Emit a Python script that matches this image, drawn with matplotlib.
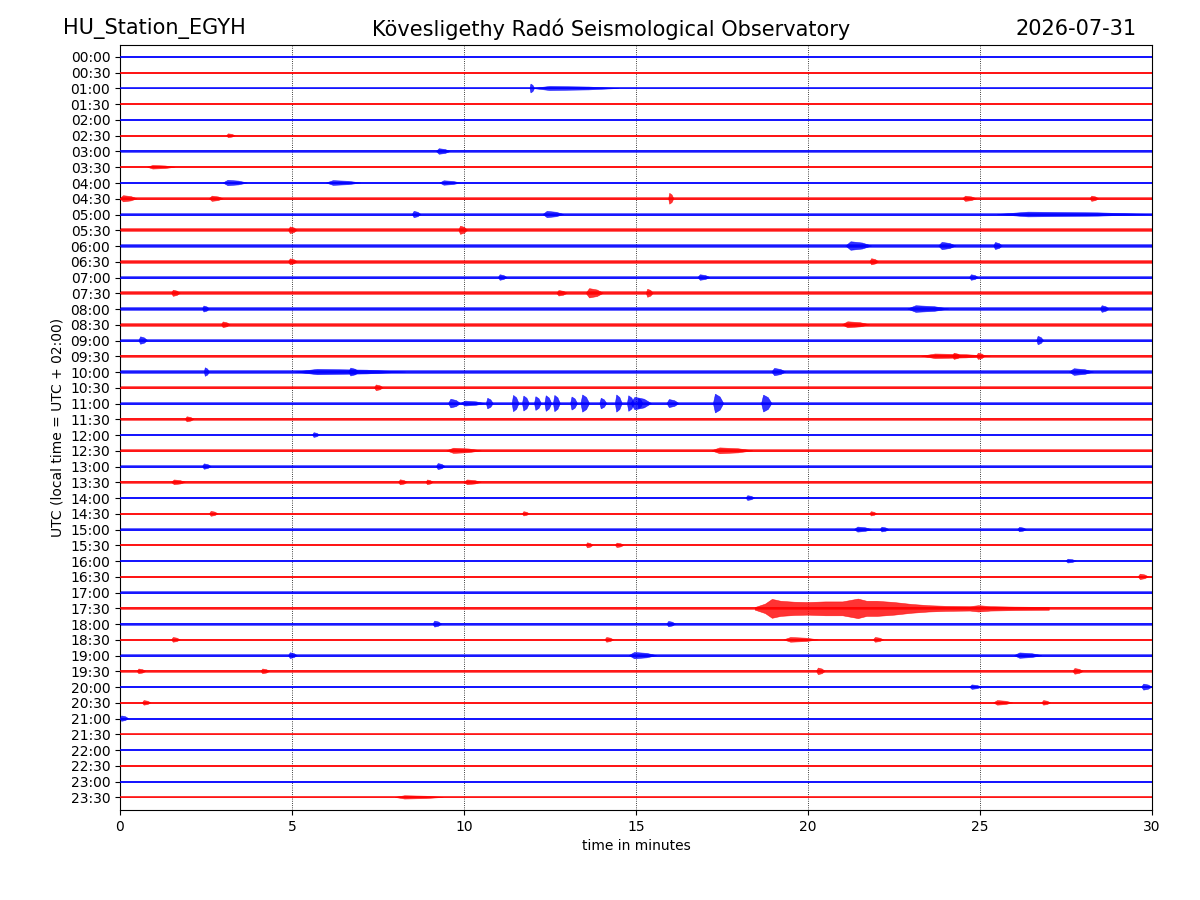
import matplotlib
matplotlib.use("Agg")
import matplotlib.pyplot as plt

# ---------------- data ----------------
station = "HU_Station_EGYH"
observatory = "Kövesligethy Radó Seismological Observatory"
date_str = "2026-07-31"

row_labels = ["%02d:%02d" % (h, m) for h in range(24) for m in (0, 30)]

# background noise half-width of every trace (trace-spacing units)
base_amp = [0.05, 0.055, 0.06, 0.06, 0.06, 0.06, 0.075, 0.075, 0.08, 0.095,
            0.10, 0.14, 0.14, 0.115, 0.095, 0.115, 0.11, 0.11, 0.115, 0.095,
            0.11, 0.10, 0.095, 0.09, 0.08, 0.095, 0.09, 0.08, 0.07, 0.075,
            0.07, 0.06, 0.06, 0.07, 0.075, 0.075, 0.09, 0.08, 0.08, 0.08,
            0.07, 0.075, 0.07, 0.055, 0.055, 0.055, 0.055, 0.055]

# discrete bursts: trace index, start minute, end minute, extra half-width
ev_trace = [2, 2, 5, 6, 7, 8, 8, 8, 9, 9, 9, 9, 9,
            10, 10, 10, 11, 11, 12, 12, 12, 13, 13,
            14, 14, 14, 15, 15, 15, 15, 16, 16, 16,
            17, 17, 18, 18, 19, 19, 19, 20, 20, 20, 20, 20,
            21,
            22, 22, 22, 22, 22, 22, 22, 22, 22, 22, 22, 22, 22, 22, 22, 22, 22, 22,
            23, 24, 25, 25, 26, 26, 27, 27, 27, 27, 28, 29, 29, 29,
            30, 30, 30, 31, 31, 32, 33, 36, 36, 37, 37, 37, 37,
            38, 38, 38, 39, 39, 39, 39, 40, 40, 41, 41, 41, 42, 47]
ev_start = [11.92, 12.0, 3.1, 9.2, 0.8, 3.0, 6.0, 9.3, 0.0, 2.6, 15.95, 24.5, 28.2,
            8.5, 12.3, 25.5, 9.85, 4.9, 21.1, 23.8, 25.4, 4.9, 21.8,
            11.0, 16.8, 24.7, 1.5, 12.7, 13.55, 15.3, 2.4, 22.9, 28.5,
            2.95, 21.0, 0.55, 26.65, 23.3, 24.2, 24.9, 2.45, 5.1, 6.65, 18.95, 27.6,
            7.4,
            9.55, 10.65, 11.4, 11.7, 12.05, 12.35, 12.6, 13.1, 13.4, 13.95, 14.4, 14.75,
            15.05, 15.9, 17.25, 18.65, 14.85, 9.9,
            1.9, 5.6, 9.5, 17.2, 2.4, 9.2, 1.5, 8.1, 8.9, 10.0, 18.2, 2.6, 11.7, 21.8,
            21.35, 22.1, 26.1, 13.55, 14.4, 27.5, 29.6, 15.9, 9.1, 19.3, 1.5, 14.1, 21.9,
            14.8, 26.0, 4.9, 0.5, 4.1, 20.25, 27.7, 24.7, 29.7, 0.65, 25.4, 26.8, 0.0, 8.0]
ev_end = [12.05, 14.5, 3.35, 9.6, 1.6, 3.7, 7.0, 9.9, 0.5, 3.0, 16.1, 24.9, 28.45,
          8.75, 12.9, 30.0, 10.1, 5.15, 21.85, 24.3, 25.65, 5.15, 22.05,
          11.25, 17.15, 24.95, 1.75, 13.0, 14.05, 15.5, 2.6, 24.1, 28.75,
          3.2, 21.8, 0.8, 26.85, 25.3, 24.45, 25.15, 2.6, 8.3, 6.95, 19.35, 28.3,
          7.65,
          9.9, 10.85, 11.6, 11.9, 12.25, 12.55, 12.8, 13.3, 13.65, 14.15, 14.6, 14.95,
          15.2, 16.25, 17.55, 18.95, 15.45, 10.6,
          2.15, 5.8, 10.5, 18.4, 2.65, 9.45, 1.9, 8.35, 9.1, 10.5, 18.45, 2.85, 11.9, 22.0,
          21.85, 22.35, 26.35, 13.75, 14.65, 27.8, 29.9, 16.15, 9.35, 20.3, 1.75, 14.35, 22.2,
          15.6, 26.8, 5.15, 0.75, 4.35, 20.5, 28.0, 25.05, 30.0, 0.9, 25.95, 27.05, 0.25, 9.4]
ev_amp = [0.22, 0.07, 0.06, 0.10, 0.04, 0.09, 0.07, 0.06, 0.10, 0.07, 0.25, 0.07, 0.07,
          0.10, 0.10, 0.05, 0.12, 0.07, 0.13, 0.09, 0.08, 0.07, 0.08,
          0.08, 0.08, 0.08, 0.08, 0.06, 0.18, 0.14, 0.08, 0.10, 0.10,
          0.07, 0.08, 0.12, 0.15, 0.05, 0.10, 0.10, 0.16, 0.06, 0.14, 0.12, 0.10,
          0.08,
          0.18, 0.24, 0.42, 0.38, 0.34, 0.40, 0.42, 0.32, 0.45, 0.24, 0.45, 0.40,
          0.22, 0.16, 0.50, 0.44, 0.30, 0.06,
          0.07, 0.07, 0.07, 0.09, 0.08, 0.10, 0.07, 0.08, 0.07, 0.07, 0.08, 0.08, 0.06, 0.06,
          0.09, 0.08, 0.07, 0.10, 0.08, 0.06, 0.10, 0.08, 0.10, 0.07, 0.07, 0.07, 0.07,
          0.12, 0.09, 0.10, 0.07, 0.07, 0.13, 0.10, 0.07, 0.12, 0.07, 0.07, 0.07, 0.10, 0.05]

# the 17:30 earthquake envelope
quake_trace = 35
quake_t = [18.45, 18.75, 18.95, 19.2, 19.6, 20.0, 20.5, 21.0, 21.45, 21.7,
           22.0, 22.5, 23.0, 23.5, 24.0, 24.7, 24.95, 25.3, 26.0, 27.0]
quake_a = [0.08, 0.30, 0.60, 0.48, 0.42, 0.40, 0.44, 0.44, 0.62, 0.48,
           0.48, 0.40, 0.28, 0.20, 0.16, 0.14, 0.20, 0.14, 0.11, 0.09]

# ---------------- plot ----------------
fig = plt.figure(figsize=(12, 9), dpi=100)
ax = fig.add_axes([0.1, 0.1, 0.86, 0.85])

n = len(row_labels)
for i in range(n):
    col = "b" if i % 2 == 0 else "r"
    a = base_amp[i]
    ax.fill_between([0, 30], [i - a, i - a], [i + a, i + a], color=col,
                    alpha=0.6, lw=0, zorder=2)
    ax.plot([0, 30], [i, i], color=col, lw=1.1, zorder=3)

for tr, s, e, amp in zip(ev_trace, ev_start, ev_end, ev_amp):
    col = "b" if tr % 2 == 0 else "r"
    a = base_amp[tr] + amp
    w = e - s
    xs = [s, s + 0.2 * w, e - 0.35 * w, e, e - 0.35 * w, s + 0.2 * w]
    ys = [tr, tr - a, tr - 0.7 * a, tr, tr + 0.7 * a, tr + a]
    ax.fill(xs, ys, color=col, alpha=0.8, lw=0.4, ec=col, zorder=3)

qa_lo = [quake_trace - v for v in quake_a]
qa_hi = [quake_trace + v for v in quake_a]
ax.fill_between(quake_t, qa_lo, qa_hi, color="r", alpha=0.8, lw=0.4, zorder=3)

ax.set_xlim(0, 30)
ax.set_ylim(n - 0.2, -0.76)
ax.set_yticks(range(n))
ax.set_yticklabels(row_labels)
ax.set_xticks([0, 5, 10, 15, 20, 25, 30])
ax.set_xlabel("time in minutes")
ax.set_ylabel("UTC (local time = UTC + 02:00)")
ax.grid(axis="x", linestyle=":", color="k", lw=0.6, zorder=1)
ax.grid(axis="y", visible=False)
ax.set_axisbelow(True)

fig.text(0.0525, 0.968, station, fontsize=15, ha="left", va="center")
fig.text(0.509, 0.968, observatory, fontsize=15, ha="center", va="center")
fig.text(0.9475, 0.968, date_str, fontsize=15, ha="right", va="center")

fig.savefig("out.png", dpi=100)
